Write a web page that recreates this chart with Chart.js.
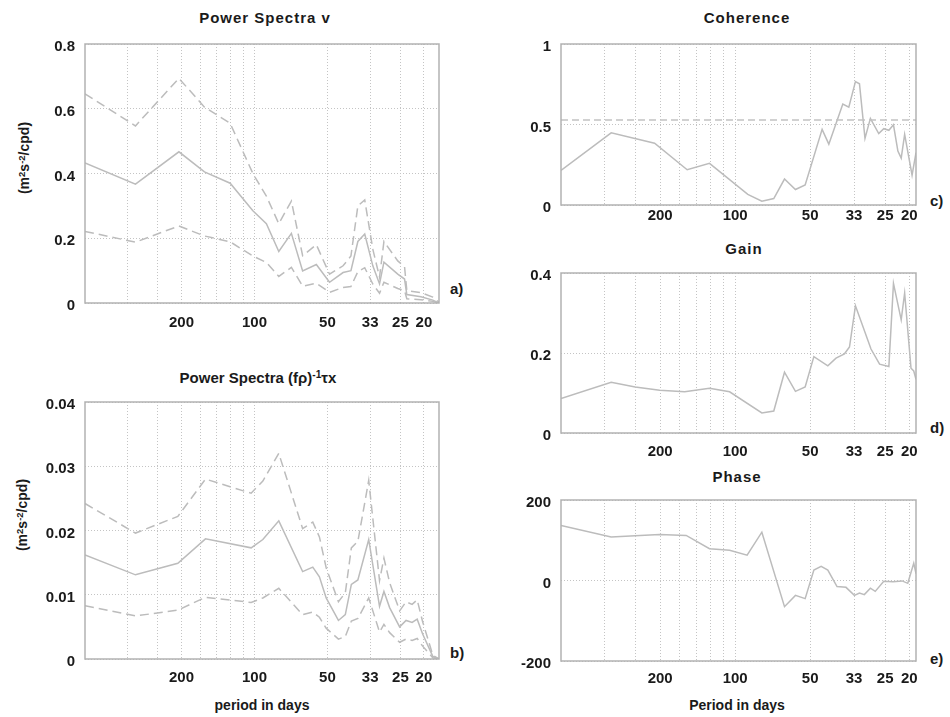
<!DOCTYPE html>
<html><head><meta charset="utf-8">
<script src="https://cdn.jsdelivr.net/npm/chart.js@4"></script>
<style>
body{margin:0;width:950px;height:717px;overflow:hidden;background:#fff;position:relative;font-family:"Liberation Sans",Arial,Helvetica,sans-serif;color:#1a1a1a}
canvas{position:absolute}
.t{position:absolute;font-weight:bold;white-space:nowrap;transform:translate(-50%,-50%);line-height:1}
.ttl{font-size:15px;letter-spacing:1px}
.ttl2{font-size:15px}
.yl{font-size:14px;transform:translate(-50%,-50%) rotate(-90deg)}
.xl{font-size:14px}
.lt{position:absolute;font-weight:bold;font-size:15px;transform:translateY(-50%);line-height:1}
sup{font-size:0.68em;vertical-align:0.45em;line-height:0}
</style></head>
<body>
<div class="t ttl" style="left:265px;top:17px">Power Spectra v</div>
<div class="t ttl2" style="left:258px;top:377px">Power Spectra (fρ)<sup>-1</sup>τx</div>
<div class="t ttl" style="left:747px;top:17px">Coherence</div>
<div class="t ttl" style="left:744px;top:248px">Gain</div>
<div class="t ttl" style="left:737px;top:476px">Phase</div>
<div class="t yl" style="left:24px;top:158px">(m<sup>2</sup>s<sup>-2</sup>/cpd)</div>
<div class="t yl" style="left:22px;top:515px">(m<sup>2</sup>s<sup>-2</sup>/cpd)</div>
<div class="t xl" style="left:262px;top:705px">period in days</div>
<div class="t xl" style="left:737px;top:705px">Period in days</div>
<div class="lt" style="left:450px;top:288px">a)</div>
<div class="lt" style="left:450px;top:652px">b)</div>
<div class="lt" style="left:930px;top:200px">c)</div>
<div class="lt" style="left:930px;top:427px">d)</div>
<div class="lt" style="left:930px;top:658px">e)</div>
<script>
// ---- axis ticks (frequency in cpd, labelled as period in days) ----
const gridFreqs = [0.003,0.004,0.005,0.006,0.007,0.008,0.009,0.01,0.02,0.03,0.04,0.05];
const labelFreqs = [0.005,0.01,0.02,0.03,0.04,0.05];
const periodLabels = ['200','100','50','33','25','20'];

// ---- a) Power spectra v ----
const freqA  = [0.0020,0.00323,0.00488,0.00622,0.00794,0.00985,0.0112,0.0126,0.0142,0.0158,0.0180,0.0204,0.0232,0.0250,0.0267,0.0285,0.0308,0.0328,0.0342,0.0390,0.0416,0.0425,0.0486,0.0544,0.0577];
const specA  = [0.433,0.367,0.467,0.405,0.370,0.285,0.245,0.159,0.215,0.099,0.119,0.064,0.094,0.100,0.190,0.213,0.114,0.059,0.126,0.089,0.074,0.026,0.019,0.009,0.000];
const upperA = [0.646,0.547,0.694,0.605,0.555,0.400,0.330,0.245,0.315,0.146,0.180,0.089,0.115,0.145,0.300,0.318,0.165,0.080,0.190,0.130,0.112,0.038,0.032,0.018,0.002];
const lowerA = [0.221,0.188,0.238,0.207,0.189,0.145,0.125,0.082,0.110,0.052,0.061,0.033,0.048,0.051,0.097,0.109,0.058,0.030,0.064,0.045,0.038,0.013,0.010,0.005,0.000];

// ---- b) Power spectra (f rho)^-1 tau x ----
const freqB  = [0.0020,0.00323,0.00483,0.00628,0.00969,0.01083,0.0126,0.0158,0.0174,0.01853,0.01976,0.0222,0.0237,0.0251,0.0267,0.0296,0.0328,0.0342,0.0361,0.0397,0.0422,0.0447,0.0469,0.0494,0.0544,0.0577];
const specB  = [0.0162,0.0131,0.0149,0.0187,0.0173,0.0186,0.0215,0.0136,0.0143,0.0128,0.0095,0.0060,0.0069,0.0116,0.0123,0.0186,0.0082,0.0105,0.0080,0.0050,0.0060,0.0057,0.0062,0.0039,0.0004,0.0];
const upperB = [0.0242,0.0196,0.0222,0.0280,0.0258,0.0277,0.0320,0.0203,0.0213,0.0190,0.0142,0.0089,0.0103,0.0173,0.0183,0.0278,0.0122,0.0157,0.0119,0.0075,0.0089,0.0085,0.0092,0.0058,0.0006,0.0];
const lowerB = [0.0083,0.0067,0.0076,0.0096,0.0088,0.0095,0.0110,0.0069,0.0073,0.0065,0.0048,0.0031,0.0035,0.0059,0.0063,0.0095,0.0042,0.0054,0.0041,0.0026,0.0031,0.0029,0.0032,0.0020,0.0002,0.0];

// ---- c) Coherence ----
const freqC = [0.0020,0.00318,0.00475,0.00642,0.00789,0.01124,0.0128,0.01429,0.01578,0.01746,0.0191,0.02234,0.02377,0.02705,0.02859,0.0304,0.03155,0.0332,0.0349,0.0377,0.0395,0.0414,0.0432,0.0450,0.0464,0.0479,0.0513,0.0532];
const coh   = [0.215,0.448,0.384,0.219,0.259,0.066,0.024,0.040,0.161,0.096,0.125,0.470,0.378,0.627,0.608,0.767,0.753,0.414,0.538,0.444,0.474,0.464,0.498,0.335,0.291,0.438,0.185,0.325];
const cohSig = [0.528, 0.528];

// ---- d) Gain ----
const freqD = [0.0020,0.00318,0.00397,0.00498,0.00627,0.00789,0.0095,0.0128,0.01429,0.01578,0.01746,0.0191,0.0207,0.02355,0.0254,0.02747,0.02877,0.0304,0.0351,0.0380,0.0414,0.0432,0.0464,0.0479,0.0508,0.0521,0.0532];
const gain  = [0.086,0.127,0.115,0.107,0.103,0.112,0.103,0.050,0.055,0.152,0.104,0.115,0.191,0.168,0.187,0.198,0.215,0.318,0.210,0.172,0.166,0.374,0.283,0.350,0.162,0.155,0.134];

// ---- e) Phase ----
const freqE = [0.0020,0.00318,0.00397,0.00498,0.00636,0.00789,0.0095,0.01117,0.0128,0.01578,0.01746,0.0191,0.0207,0.02214,0.02355,0.02564,0.02786,0.0301,0.03155,0.0330,0.0349,0.0365,0.0395,0.0430,0.0468,0.0493,0.0521,0.0532];
const phase = [137,108,111,114,112,79,75,63,120,-65,-37,-45,26,35,26,-15,-17,-37,-31,-35,-19,-27,-2,-3,-1,-7,43,17];

const LINE = '#bcbcbc';
const GRID = '#c4c4c4';
const FONT = '"Liberation Sans", Arial, Helvetica, sans-serif';

function pts(xs, ys){ return xs.map((x,i)=>({x:x, y:ys[i]})); }
function solid(xs, ys){ return {data:pts(xs,ys), borderColor:LINE, borderWidth:1.5, fill:false}; }
function dashed(xs, ys){ return {data:pts(xs,ys), borderColor:LINE, borderWidth:1.5, borderDash:[9,5], fill:false}; }

const framePlugin = {
  id:'frame',
  afterDatasetsDraw(chart){
    const a = chart.chartArea, c = chart.ctx;
    c.save(); c.strokeStyle = '#b2b2b2'; c.lineWidth = 1.5; c.setLineDash([]);
    c.strokeRect(a.left, a.top, a.right - a.left, a.bottom - a.top);
    c.restore();
  }
};

function makeChart(p){
  const YW = 70, PT = 12, PR = 14, XH = 34;
  const cv = document.createElement('canvas');
  const w = YW + (p.r - p.l) + PR, h = PT + (p.b - p.t) + XH;
  cv.width = w; cv.height = h;
  cv.style.left = (p.l - YW) + 'px'; cv.style.top = (p.t - PT) + 'px';
  cv.style.width = w + 'px'; cv.style.height = h + 'px';
  document.body.appendChild(cv);
  return new Chart(cv, {
    type:'line',
    data:{datasets:p.datasets},
    plugins:[framePlugin],
    options:{
      responsive:false, animation:false, devicePixelRatio:1,
      layout:{padding:{top:PT, right:PR, left:0, bottom:0}},
      plugins:{legend:{display:false}, tooltip:{enabled:false}, title:{display:false}},
      elements:{point:{radius:0}, line:{tension:0}},
      scales:{
        x:{
          type:'logarithmic', min:p.xmin, max:p.xmax,
          afterBuildTicks(s){ s.ticks = gridFreqs.map(v=>({value:v})); },
          afterFit(s){ s.height = XH; },
          grid:{color:GRID, lineWidth:1, drawTicks:false},
          border:{display:false, dash:[1,2]},
          ticks:{
            autoSkip:false, maxRotation:0, minRotation:0, padding:p.xpad,
            color:'#1a1a1a', font:{family:FONT, size:15, weight:'bold'},
            callback(value){
              const i = labelFreqs.findIndex(f => Math.abs(f - value) < 1e-9);
              return i >= 0 ? periodLabels[i] : '';
            }
          }
        },
        y:{
          type:'linear', min:p.ymin, max:p.ymax,
          afterFit(s){ s.width = YW; },
          grid:{color:GRID, lineWidth:1, drawTicks:false},
          border:{display:false, dash:[1,2]},
          ticks:{stepSize:p.step, padding:10, labelOffset:3, color:'#1a1a1a',
                 font:{family:FONT, size:15, weight:'bold'},
                 callback(v){ return String(Number(v.toFixed(6))); }}
        }
      }
    }
  });
}

makeChart({l:85, r:439, t:37, b:303, xmin:0.002, xmax:0.0577, ymin:0, ymax:0.8, step:0.2, xpad:11,
  datasets:[dashed(freqA, upperA), dashed(freqA, lowerA), solid(freqA, specA)]});
makeChart({l:85, r:439, t:395, b:659, xmin:0.002, xmax:0.0577, ymin:0, ymax:0.04, step:0.01, xpad:10,
  datasets:[dashed(freqB, upperB), dashed(freqB, lowerB), solid(freqB, specB)]});
makeChart({l:561, r:916, t:37, b:205, xmin:0.002, xmax:0.0532, ymin:0, ymax:1, step:0.5, xpad:2,
  datasets:[{data:pts([0.002,0.0532], cohSig), borderColor:'#c2c2c2', borderWidth:1.5, borderDash:[7,4], fill:false},
            solid(freqC, coh)]});
makeChart({l:561, r:916, t:266, b:433, xmin:0.002, xmax:0.0532, ymin:0, ymax:0.4, step:0.2, xpad:10,
  datasets:[solid(freqD, gain)]});
makeChart({l:561, r:916, t:493, b:661, xmin:0.002, xmax:0.0532, ymin:-200, ymax:200, step:200, xpad:9,
  datasets:[solid(freqE, phase)]});
</script>
</body></html>
